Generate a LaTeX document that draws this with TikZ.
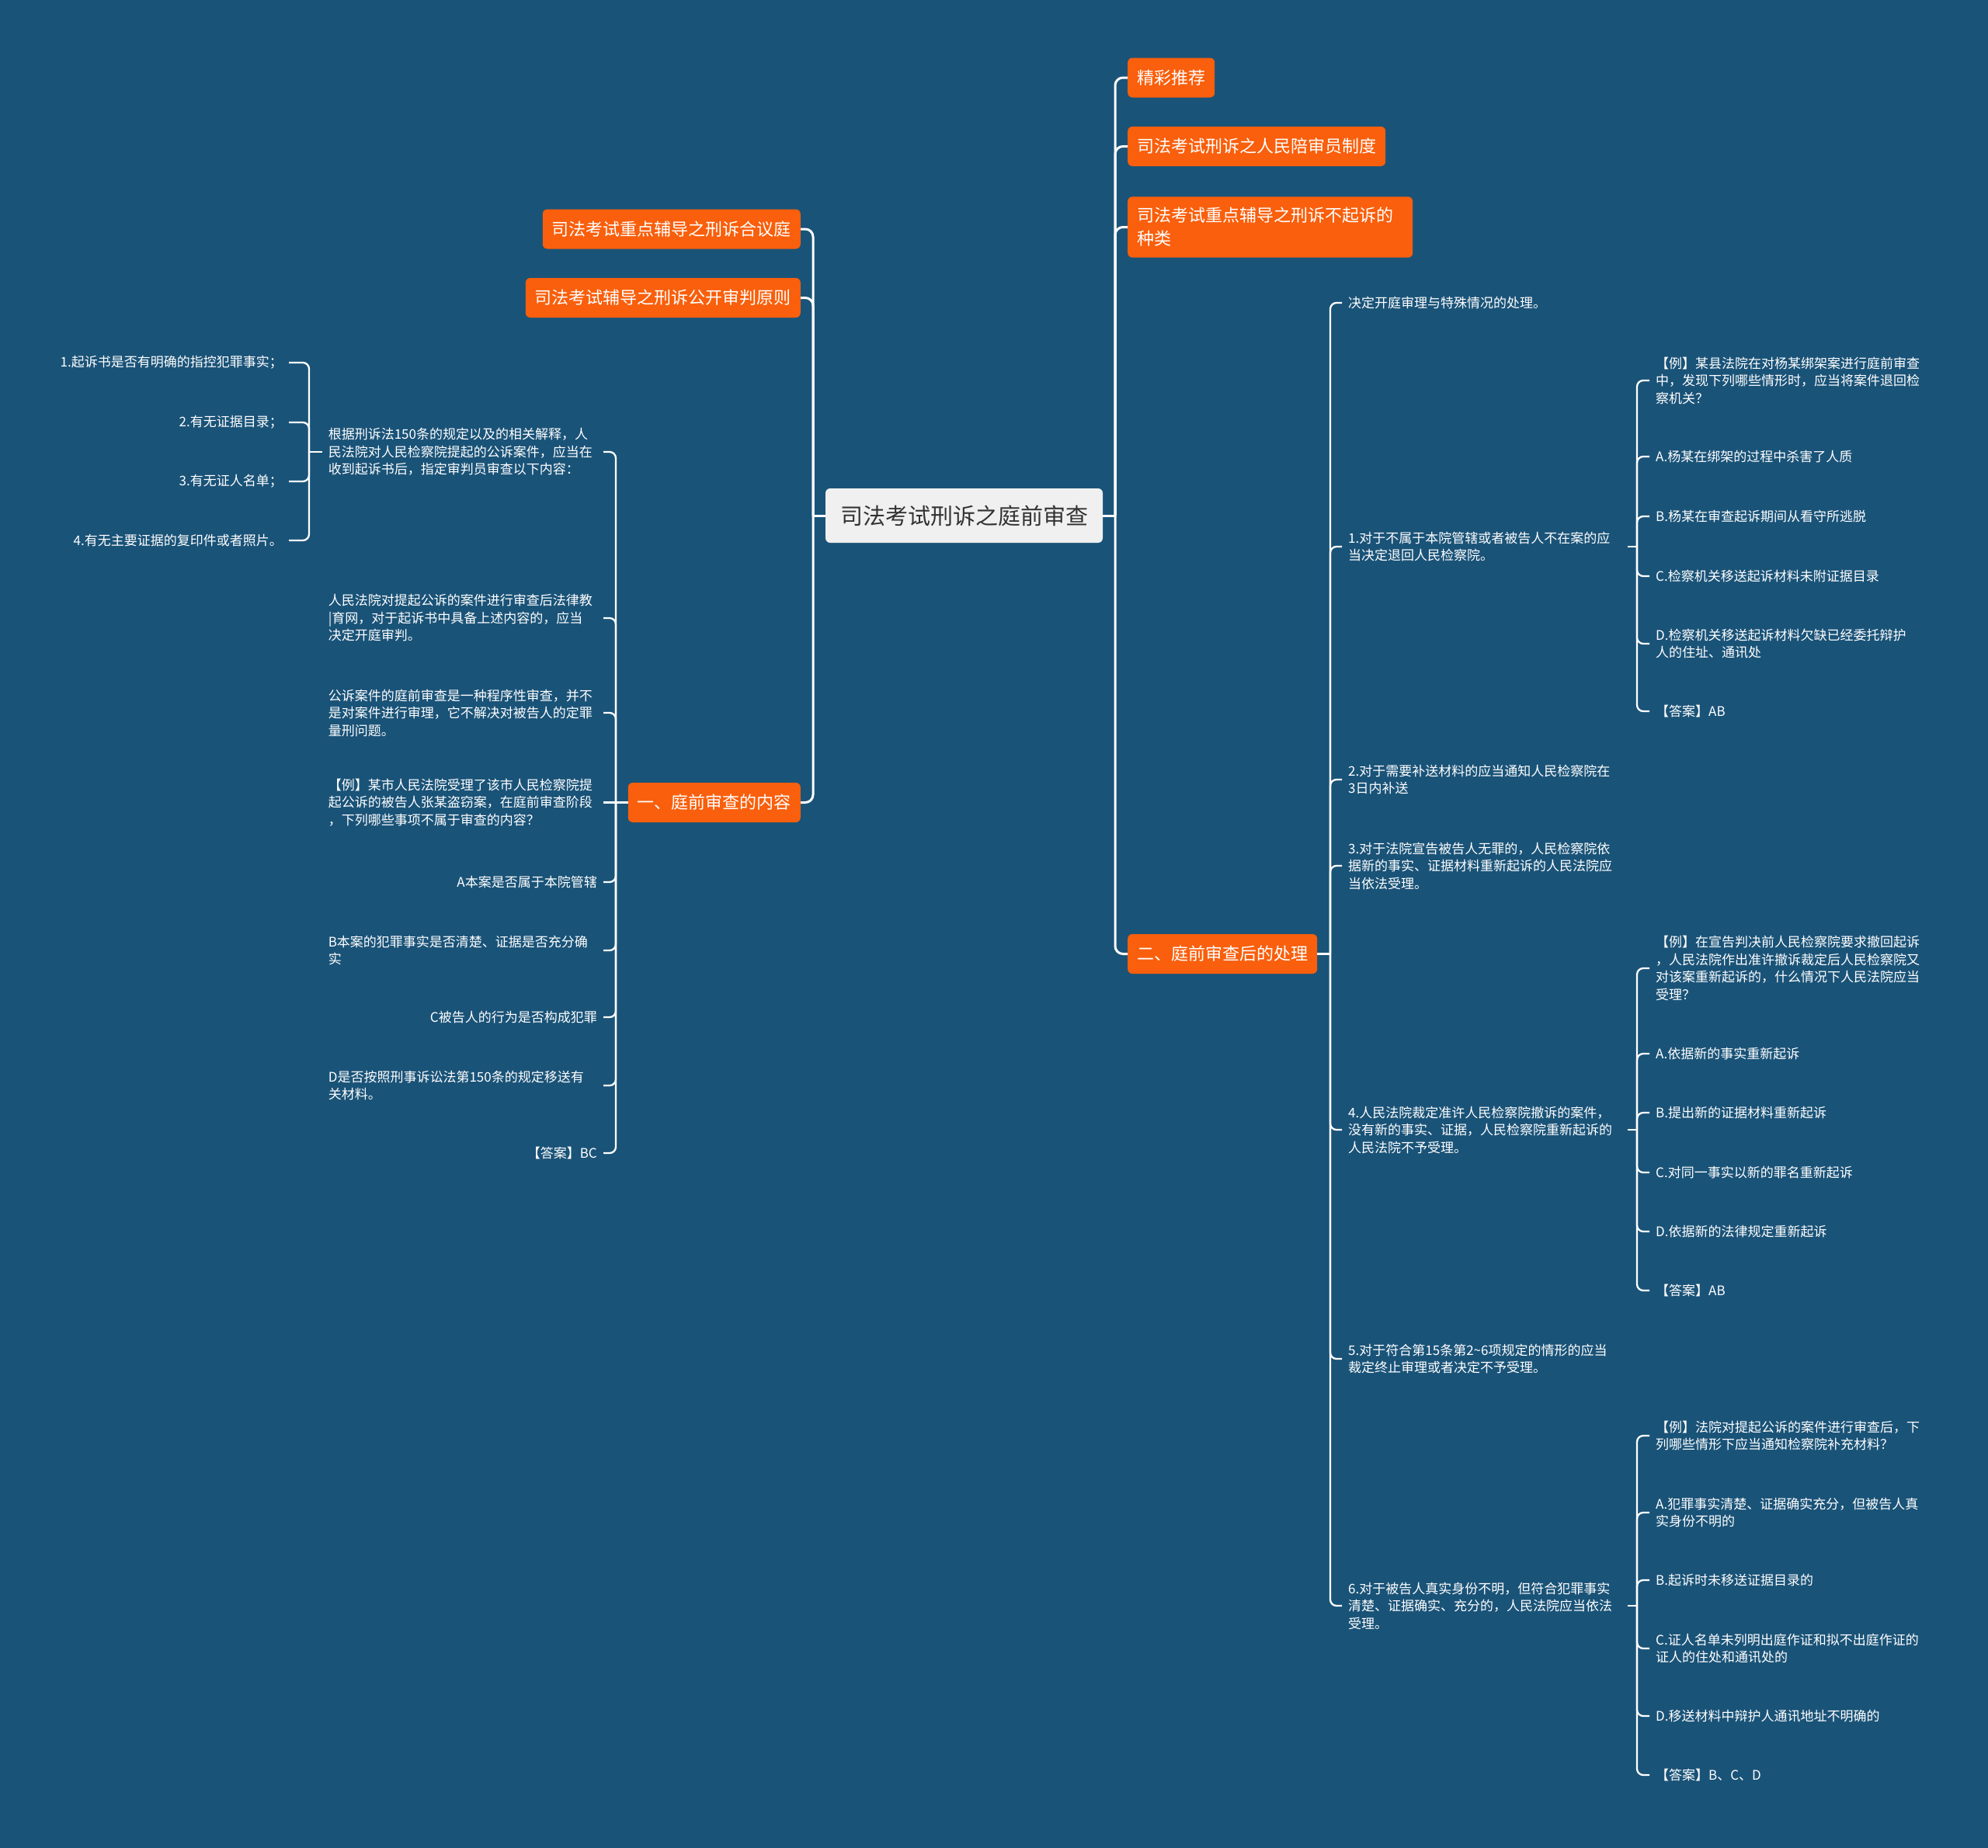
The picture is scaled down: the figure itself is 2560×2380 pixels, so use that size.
\documentclass[tikz,border=0pt]{standalone}
\usepackage{fontspec}
\setmainfont{Noto Sans CJK SC}
\definecolor{bg}{HTML}{1A5378}
\definecolor{og}{HTML}{F95F0C}
\definecolor{ctr}{HTML}{F0F0F0}
\definecolor{ctrtxt}{HTML}{333333}
\begin{document}
\begin{tikzpicture}[x=1pt,y=-1pt,
  mainln/.style={draw=white,line width=3pt,rounded corners=10pt},
  subln/.style={draw=white,line width=2.3pt,rounded corners=8pt},
  obox/.style={fill=og,text=white,rounded corners=6pt,font=\fontsize{22}{30}\selectfont,
    inner xsep=12pt,inner ysep=14pt,minimum height=51pt,align=left},
  leaf/.style={text=white,font=\fontsize{17}{22.5}\selectfont,inner xsep=8pt,inner ysep=0pt,align=left},
  mlL/.style={leaf,text width=346pt},
  mlR/.style={leaf,text width=352pt}]
\useasboundingbox (0,0) rectangle (2560,2380);
\fill[bg] (0,0) rectangle (2560,2380);

% root
\node[fill=ctr,text=ctrtxt,rounded corners=6pt,font=\fontsize{29}{34}\selectfont,
  minimum width=357pt,minimum height=70pt,inner sep=0pt] (root) at (1241.5,664) {司法考试刑诉之庭前审查};

% spine coordinates
\coordinate (mL) at (1047,0);
\coordinate (mR) at (1436,0);
\coordinate (sA) at (793,0);
\coordinate (sB) at (398,0);
\coordinate (sC) at (1713,0);
\coordinate (sD) at (2108,0);

% first level
\node[obox,anchor=east] (L1) at (1031,295) {司法考试重点辅导之刑诉合议庭};
\node[obox,anchor=east] (L2) at (1031,383.5) {司法考试辅导之刑诉公开审判原则};
\node[obox,anchor=east] (L3) at (1031,1033.5) {一、庭前审查的内容};
\node[obox,anchor=west] (R1) at (1452,100) {精彩推荐};
\node[obox,anchor=west] (R2) at (1452,188.5) {司法考试刑诉之人民陪审员制度};
\node[obox,anchor=west,text width=343pt] (R3) at (1452,292.5) {司法考试重点辅导之刑诉不起诉的\\种类};
\node[obox,anchor=west] (R4) at (1452,1228.5) {二、庭前审查后的处理};

% left second level
\node[mlL,anchor=east] (a1) at (777,582) {根据刑诉法150条的规定以及的相关解释，人\\民法院对人民检察院提起的公诉案件，应当在\\收到起诉书后，指定审判员审查以下内容：};
\node[mlL,anchor=east] (a2) at (777,796) {人民法院对提起公诉的案件进行审查后法律教\\|育网，对于起诉书中具备上述内容的，应当\\决定开庭审判。};
\node[mlL,anchor=east] (a3) at (777,918) {公诉案件的庭前审查是一种程序性审查，并不\\是对案件进行审理，它不解决对被告人的定罪\\量刑问题。};
\node[mlL,anchor=east] (a4) at (777,1033.5) {【例】某市人民法院受理了该市人民检察院提\\起公诉的被告人张某盗窃案，在庭前审查阶段\\，下列哪些事项不属于审查的内容？};
\node[leaf,anchor=east] (a5) at (777,1136) {A本案是否属于本院管辖};
\node[mlL,anchor=east] (a6) at (777,1224) {B本案的犯罪事实是否清楚、证据是否充分确\\实};
\node[leaf,anchor=east] (a7) at (777,1310) {C被告人的行为是否构成犯罪};
\node[mlL,anchor=east] (a8) at (777,1398) {D是否按照刑事诉讼法第150条的规定移送有\\关材料。};
\node[leaf,anchor=east] (a9) at (777,1485) {【答案】BC};

% left third level
\node[leaf,anchor=east] (b1) at (372,467) {1.起诉书是否有明确的指控犯罪事实；};
\node[leaf,anchor=east] (b2) at (372,544) {2.有无证据目录；};
\node[leaf,anchor=east] (b3) at (372,620) {3.有无证人名单；};
\node[leaf,anchor=east] (b4) at (372,696) {4.有无主要证据的复印件或者照片。};

% right second level
\node[leaf,anchor=west] (c1) at (1728,390) {决定开庭审理与特殊情况的处理。};
\node[mlR,anchor=west] (c2) at (1728,704) {1.对于不属于本院管辖或者被告人不在案的应\\当决定退回人民检察院。};
\node[mlR,anchor=west] (c3) at (1728,1004) {2.对于需要补送材料的应当通知人民检察院在\\3日内补送};
\node[mlR,anchor=west] (c4) at (1728,1115) {3.对于法院宣告被告人无罪的，人民检察院依\\据新的事实、证据材料重新起诉的人民法院应\\当依法受理。};
\node[mlR,anchor=west] (c5) at (1728,1455) {4.人民法院裁定准许人民检察院撤诉的案件，\\没有新的事实、证据，人民检察院重新起诉的\\人民法院不予受理。};
\node[mlR,anchor=west] (c6) at (1728,1750) {5.对于符合第15条第2\textasciitilde 6项规定的情形的应当\\裁定终止审理或者决定不予受理。};
\node[mlR,anchor=west] (c7) at (1728,2068) {6.对于被告人真实身份不明，但符合犯罪事实\\清楚、证据确实、充分的，人民法院应当依法\\受理。};

% right third level (under 1.)
\node[mlR,anchor=west] (d1) at (2124,490) {【例】某县法院在对杨某绑架案进行庭前审查\\中，发现下列哪些情形时，应当将案件退回检\\察机关？};
\node[leaf,anchor=west] (d2) at (2124,588) {A.杨某在绑架的过程中杀害了人质};
\node[leaf,anchor=west] (d3) at (2124,665) {B.杨某在审查起诉期间从看守所逃脱};
\node[leaf,anchor=west] (d4) at (2124,742) {C.检察机关移送起诉材料未附证据目录};
\node[mlR,anchor=west] (d5) at (2124,829) {D.检察机关移送起诉材料欠缺已经委托辩护\\人的住址、通讯处};
\node[leaf,anchor=west] (d6) at (2124,916) {【答案】AB};

% under 4.
\node[mlR,anchor=west] (e1) at (2124,1247) {【例】在宣告判决前人民检察院要求撤回起诉\\，人民法院作出准许撤诉裁定后人民检察院又\\对该案重新起诉的，什么情况下人民法院应当\\受理？};
\node[leaf,anchor=west] (e2) at (2124,1357) {A.依据新的事实重新起诉};
\node[leaf,anchor=west] (e3) at (2124,1433) {B.提出新的证据材料重新起诉};
\node[leaf,anchor=west] (e4) at (2124,1510) {C.对同一事实以新的罪名重新起诉};
\node[leaf,anchor=west] (e5) at (2124,1586) {D.依据新的法律规定重新起诉};
\node[leaf,anchor=west] (e6) at (2124,1662) {【答案】AB};

% under 6.
\node[mlR,anchor=west] (f1) at (2124,1849) {【例】法院对提起公诉的案件进行审查后，下\\列哪些情形下应当通知检察院补充材料？};
\node[mlR,anchor=west] (f2) at (2124,1948) {A.犯罪事实清楚、证据确实充分，但被告人真\\实身份不明的};
\node[leaf,anchor=west] (f3) at (2124,2035) {B.起诉时未移送证据目录的};
\node[mlR,anchor=west] (f4) at (2124,2123) {C.证人名单未列明出庭作证和拟不出庭作证的\\证人的住处和通讯处的};
\node[leaf,anchor=west] (f5) at (2124,2210) {D.移送材料中辩护人通讯地址不明确的};
\node[leaf,anchor=west] (f6) at (2124,2286) {【答案】B、C、D};

% main connectors
\draw[mainln] (root.west) -- (mL |- root.west);
\foreach \c in {L1,L2,L3} \draw[mainln] (mL |- root.west) |- (\c.east);
\draw[mainln] (root.east) -- (mR |- root.east);
\foreach \c in {R1,R2,R3,R4} \draw[mainln] (mR |- root.east) |- (\c.west);

% left second level connectors
\draw[subln] (L3.west) -- (sA |- L3.west);
\foreach \c in {a1,a2,a3,a5,a6,a7,a8,a9} \draw[subln] (sA |- L3.west) |- (\c.east);
\draw[subln] (sA |- a4.east) -- (a4.east);

% left third level
\draw[subln] (a1.west) -- (sB |- a1.west);
\foreach \c in {b1,b2,b3,b4} \draw[subln] (sB |- a1.west) |- (\c.east);

% right second level
\draw[subln] (R4.east) -- (sC |- R4.east);
\foreach \c in {c1,c2,c3,c4,c5,c6,c7} \draw[subln] (sC |- R4.east) |- (\c.west);

% right third level
\draw[subln] (c2.east) -- (sD |- c2.east);
\foreach \c in {d1,d2,d3,d4,d5,d6} \draw[subln] (sD |- c2.east) |- (\c.west);
\draw[subln] (c5.east) -- (sD |- c5.east);
\foreach \c in {e1,e2,e3,e4,e5,e6} \draw[subln] (sD |- c5.east) |- (\c.west);
\draw[subln] (c7.east) -- (sD |- c7.east);
\foreach \c in {f1,f2,f3,f4,f5,f6} \draw[subln] (sD |- c7.east) |- (\c.west);
\end{tikzpicture}
\end{document}
